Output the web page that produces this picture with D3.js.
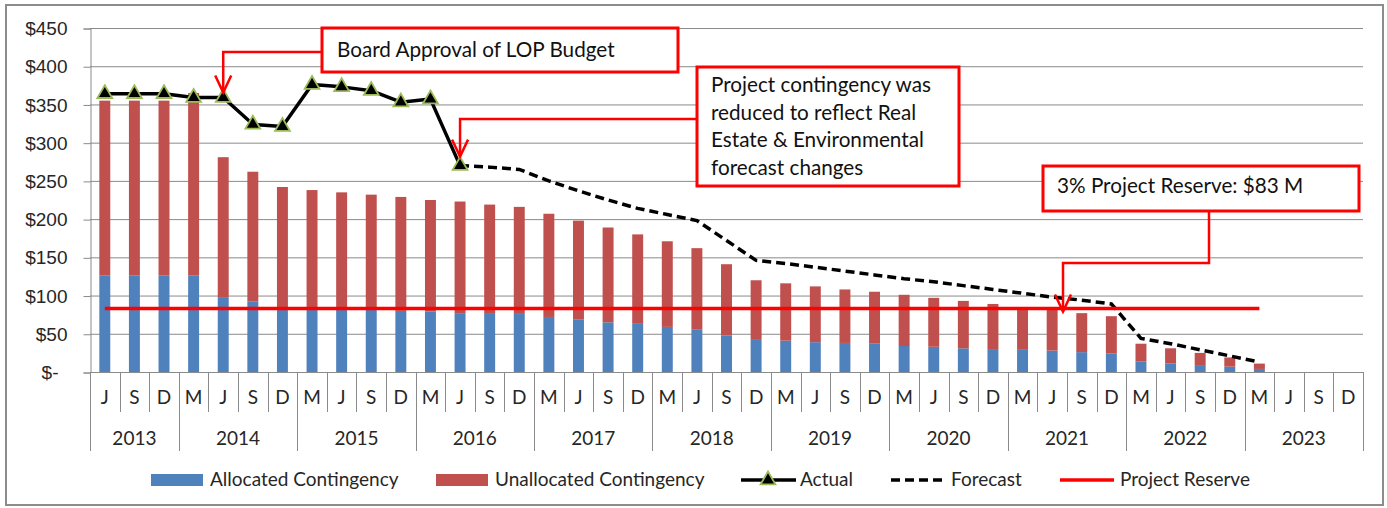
<!DOCTYPE html>
<html>
<head>
<meta charset="utf-8">
<script src="https://cdn.jsdelivr.net/npm/d3@7"></script>
<style>
body { margin: 0; background: #fff; }
svg { display: block; font-family: Lato, "Open Sans", sans-serif; }
.tick text, .cat text, .legend text { font-size: 19px; fill: #262626; }
.note text { font-size: 20.7px; fill: #111; }
</style>
</head>
<body>
<svg width="1387" height="508"></svg>
<script>
"use strict";

// categories: year groups and their quarter letters
var years = ["2013", "2014", "2015", "2016", "2017", "2018", "2019", "2020", "2021", "2022", "2023"];
var yearQuarters = [
    ["J", "S", "D"],
    ["M", "J", "S", "D"], ["M", "J", "S", "D"], ["M", "J", "S", "D"], ["M", "J", "S", "D"],
    ["M", "J", "S", "D"], ["M", "J", "S", "D"], ["M", "J", "S", "D"], ["M", "J", "S", "D"],
    ["M", "J", "S", "D"], ["M", "J", "S", "D"]
];

// $ millions, one value per quarter (43)
var allocated = [126, 126, 126, 126, 98, 92, 82, 82, 82, 82, 80, 79, 77, 76, 76, 72, 69, 65, 63, 59,
                 56, 48, 42, 41, 39, 38, 37, 34, 33, 31, 30, 29, 28, 26, 24, 14, 11, 8, 7, 4,
                 0, 0, 0];
var unallocated = [229, 229, 229, 239, 183, 170, 160, 156, 153, 150, 149, 146, 146, 143, 140, 135, 129, 124, 117, 112,
                   106, 93, 78, 75, 73, 70, 68, 67, 64, 62, 59, 56, 56, 51, 49, 23, 20, 17, 12, 7,
                   0, 0, 0];
// actual starts at first quarter, forecast picks up at J 2016 (index 12)
var actual = [364, 364, 364, 359, 359, 324, 321, 376, 373, 368, 353, 357, 270];
var forecastStart = 12;
var forecast = [270, 268, 265, 250, 237, 225, 214, 206, 198, 172, 146, 142, 137, 132, 127, 122, 118, 113,
                108, 103, 98, 94, 89, 44, 37, 29, 21, 13];
var reserveValue = 83;
var reserveQuarters = 40;
var yTicks = [0, 50, 100, 150, 200, 250, 300, 350, 400, 450];

var legendItems = ["Allocated Contingency", "Unallocated Contingency", "Actual", "Forecast", "Project Reserve"];
var notes = [
    "Board Approval of LOP Budget",
    ["Project contingency was", "reduced to reflect Real", "Estate & Environmental", "forecast changes"],
    "3% Project Reserve: $83 M"
];

var blue = "#4f81bd", brick = "#c0504d", grid = "#8a8a8a";

var cats = [];
yearQuarters.forEach(function(qs, yi) {
    qs.forEach(function(q) { cats.push({year: years[yi], q: q}); });
});
var idx = d3.range(cats.length);

var svg = d3.select("svg");
svg.append("rect")
   .attr("x", 6).attr("y", 5).attr("width", 1377).attr("height", 500)
   .attr("fill", "#fff").attr("stroke", "#8c8c8c").attr("stroke-width", 2);

var x = d3.scaleBand().domain(idx).range([90, 1363]).paddingInner(0.63).paddingOuter(0.315);
var y = d3.scaleLinear().domain([0, 450]).range([372, 28]);
var step = x.step();
var cx = function(i) { return x(i) + x.bandwidth() / 2; };

// gridlines
svg.append("g")
   .selectAll("line").data(yTicks.slice(1)).enter()
   .append("line")
   .attr("x1", 90).attr("x2", 1363)
   .attr("y1", function(d) { return y(d) + 0.5; })
   .attr("y2", function(d) { return y(d) + 0.5; })
   .attr("stroke", grid).attr("stroke-width", 1);

// y axis
var yAxis = svg.append("g")
   .attr("transform", "translate(90.5,0.5)")
   .call(d3.axisLeft(y).tickValues(yTicks).tickSize(7).tickPadding(16)
           .tickFormat(function(d) { return d ? "$" + d : "$-"; }));
yAxis.select(".domain").attr("stroke", grid);
yAxis.selectAll(".tick line").attr("stroke", grid);
yAxis.selectAll(".tick text").attr("font-family", null)
     .attr("dx", function(d) { return d ? 0 : -9; });

// stacked bars
var table = idx.map(function(i) { return {i: i, allocated: allocated[i], unallocated: unallocated[i]}; });
var stacked = d3.stack().keys(["allocated", "unallocated"])(table);
svg.append("g")
   .selectAll("g").data(stacked).enter()
   .append("g")
   .attr("fill", function(d, k) { return k ? brick : blue; })
   .selectAll("rect").data(function(d) { return d; }).enter()
   .append("rect")
   .attr("x", function(d) { return x(d.data.i); })
   .attr("width", x.bandwidth())
   .attr("y", function(d) { return y(d[1]); })
   .attr("height", function(d) { return y(d[0]) - y(d[1]); });

// category axis, two levels
var cat = svg.append("g").attr("class", "cat");
cat.append("line")
   .attr("x1", 90).attr("x2", 1363).attr("y1", 372.5).attr("y2", 372.5)
   .attr("stroke", grid);
var yearEdges = [0];
yearQuarters.forEach(function(qs) { yearEdges.push(yearEdges[yearEdges.length - 1] + qs.length); });
d3.range(cats.length + 1).forEach(function(b) {
    var bx = Math.round(90 + b * step) + 0.5;
    var long = yearEdges.indexOf(b) >= 0;
    cat.append("line")
       .attr("x1", bx).attr("x2", bx).attr("y1", 372).attr("y2", long ? 451 : 412)
       .attr("stroke", grid);
});
cat.selectAll("text.q").data(cats).enter()
   .append("text").attr("class", "q")
   .attr("x", function(d, i) { return cx(i); })
   .attr("y", 404)
   .attr("text-anchor", "middle")
   .text(function(d) { return d.q; });
cat.selectAll("text.yr").data(years).enter()
   .append("text").attr("class", "yr")
   .attr("x", function(d, k) { return 90 + (yearEdges[k] + yearEdges[k + 1]) / 2 * step; })
   .attr("y", 445)
   .attr("text-anchor", "middle")
   .text(function(d) { return d; });

// lines
var line = d3.line().x(function(d) { return cx(d[0]); }).y(function(d) { return y(d[1]); });
var reservePts = d3.range(reserveQuarters).map(function(i) { return [i, reserveValue]; });
var forecastPts = forecast.map(function(v, k) { return [forecastStart + k, v]; });
var actualPts = actual.map(function(v, k) { return [k, v]; });

svg.append("path").datum(actualPts)
   .attr("d", line).attr("fill", "none").attr("stroke", "#000").attr("stroke-width", 3.5)
   .attr("stroke-linejoin", "round");
svg.append("path").datum(forecastPts)
   .attr("d", line).attr("fill", "none").attr("stroke", "#000").attr("stroke-width", 3.5)
   .attr("stroke-dasharray", "9,5");
svg.append("path").datum(reservePts)
   .attr("d", line).attr("fill", "none").attr("stroke", "#ff0000").attr("stroke-width", 3.5);

var tri = d3.symbol().type(d3.symbolTriangle).size(95);
svg.append("g")
   .selectAll("path").data(actualPts).enter()
   .append("path")
   .attr("d", tri)
   .attr("transform", function(d) { return "translate(" + cx(d[0]) + "," + y(d[1]) + ")"; })
   .attr("fill", "#000").attr("stroke", "#9bbb59").attr("stroke-width", 1.8);

// annotations
var note = svg.append("g").attr("class", "note");
function arrowHead(g, tx, ty) {
    g.append("path")
     .attr("d", "M" + (tx - 8) + "," + (ty - 17) + "L" + tx + "," + ty + "L" + (tx + 8) + "," + (ty - 17))
     .attr("fill", "none").attr("stroke", "#ff0000").attr("stroke-width", 2.5);
}
function connector(pts) {
    note.append("path")
        .attr("d", d3.line()(pts))
        .attr("fill", "none").attr("stroke", "#ff0000").attr("stroke-width", 2.5);
    var last = pts[pts.length - 1];
    arrowHead(note, last[0], last[1]);
}
function box(bx, by, bw, bh, lines, tx, ty, lh) {
    note.append("rect")
        .attr("x", bx).attr("y", by).attr("width", bw).attr("height", bh)
        .attr("fill", "#fff").attr("stroke", "#ff0000").attr("stroke-width", 3);
    [].concat(lines).forEach(function(s, k) {
        note.append("text").attr("x", tx).attr("y", ty + k * lh).text(s);
    });
}

connector([[322, 52], [cx(4), 52], [cx(4), y(actual[4]) - 5]]);
connector([[697, 119], [cx(12), 119], [cx(12), y(actual[12]) - 9]]);
connector([[1209, 211], [1209, 263], [1063, 263], [1063, y(reserveValue) + 3]]);

box(322, 28, 356, 44, notes[0], 337, 57, 0);
box(697, 67, 262, 119, notes[1], 711, 92, 27.5);
box(1043, 166, 316, 45, notes[2], 1057, 193, 0);

// legend
var legend = svg.append("g").attr("class", "legend");
var lx = [151, 436, 741, 891, 1060];
var tx = [210, 495, 800, 951, 1120];
legend.append("rect").attr("x", lx[0]).attr("y", 474).attr("width", 52).attr("height", 12).attr("fill", blue);
legend.append("rect").attr("x", lx[1]).attr("y", 474).attr("width", 52).attr("height", 12).attr("fill", brick);
legend.append("line").attr("x1", lx[2]).attr("x2", lx[2] + 55).attr("y1", 480).attr("y2", 480)
      .attr("stroke", "#000").attr("stroke-width", 3.5);
legend.append("path").attr("d", tri).attr("transform", "translate(" + (lx[2] + 27) + ",480)")
      .attr("fill", "#000").attr("stroke", "#9bbb59").attr("stroke-width", 1.8);
legend.append("line").attr("x1", lx[3]).attr("x2", lx[3] + 55).attr("y1", 480).attr("y2", 480)
      .attr("stroke", "#000").attr("stroke-width", 3.5).attr("stroke-dasharray", "9,5");
legend.append("line").attr("x1", lx[4]).attr("x2", lx[4] + 54).attr("y1", 480).attr("y2", 480)
      .attr("stroke", "#ff0000").attr("stroke-width", 3.5);
legend.selectAll("text").data(legendItems).enter()
      .append("text")
      .attr("x", function(d, k) { return tx[k]; })
      .attr("y", 486)
      .text(function(d) { return d; });
</script>
</body>
</html>
